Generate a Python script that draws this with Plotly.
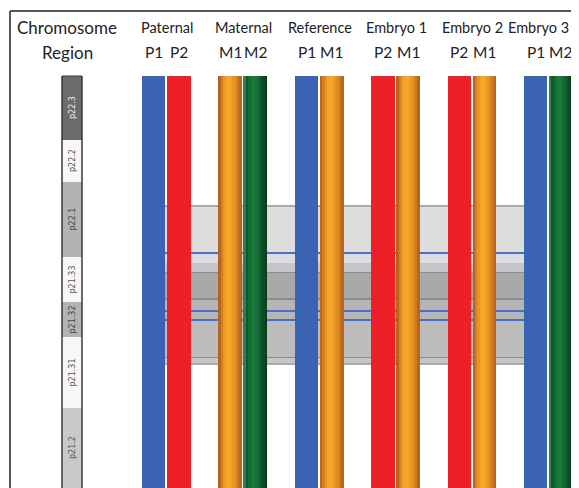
import plotly.graph_objects as go

# ---------------- data ----------------
groups = ["Paternal", "Maternal", "Reference", "Embryo 1", "Embryo 2", "Embryo 3"]
haplo_left = ["P1", "M1", "P1", "P2", "P2", "P1"]
haplo_right = ["P2", "M2", "M1", "M1", "M1", "M2"]

# chromosome 6p ideogram bands (positions along the drawn chromosome)
band_names = ["p22.3", "p22.2", "p22.1", "p21.33", "p21.32", "p21.31", "p21.2"]
band_start = [76, 140, 182, 257, 302, 337, 408]
band_end = [140, 182, 257, 302, 337, 408, 490]
band_stain = ["gpos75", "gneg", "gpos50", "gneg", "gpos50", "gneg", "gpos25"]

# highlighted (typed) region with marker stripes
region_start = [205, 207, 252, 254, 263, 272, 273, 298, 300, 310, 312, 319, 321, 357, 358, 363]
region_end = [207, 252, 254, 263, 272, 273, 298, 300, 310, 312, 319, 321, 357, 358, 363, 365]
region_kind = ["edge", "light", "marker", "pale", "mid", "edge2", "dark", "edge2", "mid2",
               "marker", "mid2", "marker", "mid3", "edge2", "mid", "edge"]

chrom_top = 76
chrom_bottom = 490

# ---------------- styles ----------------
W, H = 579, 488
PAD = 8  # browser body margin offset
stain_color = {"gpos75": "#6b6b6b", "gneg": "#f7f7f7", "gpos50": "#b3b3b3", "gpos25": "#c9c9c9"}
stain_text = {"gpos75": "#f0f0f0", "gneg": "#555555", "gpos50": "#444444", "gpos25": "#555555"}
region_color = {"edge": "#a9a9a9", "light": "#dddddd", "marker": "#4a70c2", "pale": "#dcdde3",
                "mid": "#c6c6c6", "edge2": "#8c8c8c", "dark": "#a9a9a9", "mid2": "#b5b5b7",
                "mid3": "#bdbdbd"}

flat_color = {"P1": "#3a63b3", "P2": "#ee1f26"}
grad_profile = {
    "M1": ["#b4661c", "#d4801f", "#ea9422", "#f4a326", "#f6a829", "#f2a227",
           "#e99724", "#dc8a22", "#cc7a20", "#b8681d"],
    "M2": ["#2f8047", "#0f5a2a", "#136a33", "#187638", "#1a7a3b", "#17733a",
           "#136633", "#0f582b", "#0c4b24", "#093f1e"],
}

first_center = 166.3
spacing = 76.4
offset = 12.6
bar_w = 23.5
chrom_x = 72
chrom_w = 20

font_fam = "Lato, 'Open Sans', sans-serif"

fig = go.Figure()

# ---- haplotype bars ----
xs, ws, cols = [], [], []
for i, (a, b) in enumerate(zip(haplo_left, haplo_right)):
    c = first_center + i * spacing
    for hap, cx in ((a, c - offset), (b, c + offset)):
        if hap in flat_color:
            xs.append(cx); ws.append(bar_w); cols.append(flat_color[hap])
        else:
            prof = grad_profile[hap]
            n = len(prof)
            sw = bar_w / n
            for k, col in enumerate(prof):
                xs.append(cx - bar_w / 2 + sw * (k + 0.5))
                ws.append(sw * 1.08)
                cols.append(col)
fig.add_trace(go.Bar(x=xs, y=[chrom_bottom - chrom_top] * len(xs), base=[chrom_top] * len(xs),
                     width=ws, marker=dict(color=cols, line=dict(width=0)),
                     hoverinfo="skip", showlegend=False))

# ---- ideogram bands ----
fig.add_trace(go.Bar(x=[chrom_x] * len(band_names),
                     y=[e - s for s, e in zip(band_start, band_end)],
                     base=band_start, width=chrom_w,
                     marker=dict(color=[stain_color[s] for s in band_stain], line=dict(width=0)),
                     hoverinfo="skip", showlegend=False))
for nm, s, e, st in zip(band_names, band_start, band_end, band_stain):
    fig.add_annotation(x=chrom_x, y=(s + min(e, 488)) / 2, xref="x", yref="y", text=nm, showarrow=False,
                       textangle=-90, font=dict(family="DejaVu Sans", size=8, color=stain_text[st]))
# ideogram outline
for dx in (-chrom_w / 2, chrom_w / 2):
    fig.add_shape(type="line", x0=chrom_x + dx, x1=chrom_x + dx, y0=chrom_top, y1=chrom_bottom,
                  xref="x", yref="y", line=dict(color="#3a3a3a", width=1.5), layer="above")
fig.add_shape(type="line", x0=chrom_x - chrom_w / 2, x1=chrom_x + chrom_w / 2, y0=chrom_top, y1=chrom_top,
              xref="x", yref="y", line=dict(color="#3a3a3a", width=1), layer="above")

# ---- highlighted region (behind bars) ----
rx0 = first_center - 5
rx1 = first_center + 5 * spacing - 18
for s, e, k in zip(region_start, region_end, region_kind):
    fig.add_shape(type="rect", x0=rx0, x1=rx1, y0=s, y1=e, xref="x", yref="y",
                  fillcolor=region_color[k], line=dict(width=0), layer="below")

# ---- frame lines ----
fig.add_shape(type="line", x0=10, x1=W + PAD, y0=11, y1=11, xref="x", yref="y",
              line=dict(color="#555555", width=2))
fig.add_shape(type="line", x0=10, x1=10, y0=11, y1=H + PAD, xref="x", yref="y",
              line=dict(color="#555555", width=2))

# ---- headers ----
cfont = dict(family=font_fam, size=17, color="#222222")
gfont = dict(family=font_fam, size=14.5, color="#222222")
hfont = dict(family=font_fam, size=15.5, color="#222222")
fig.add_annotation(x=67, y=27, xref="x", yref="y", text="Chromosome", showarrow=False, font=cfont)
fig.add_annotation(x=67, y=52, xref="x", yref="y", text="Region", showarrow=False, font=cfont)
for i, (g, a, b) in enumerate(zip(groups, haplo_left, haplo_right)):
    c = first_center + i * spacing
    if i == len(groups) - 1:
        fig.add_annotation(x=571, y=27, xref="x", yref="y", text=g, showarrow=False,
                           xanchor="right", font=gfont)
    else:
        fig.add_annotation(x=c + 1, y=27, xref="x", yref="y", text=g, showarrow=False, font=gfont)
    fig.add_annotation(x=c - offset, y=52, xref="x", yref="y", text=a, showarrow=False, font=hfont)
    fig.add_annotation(x=c + offset, y=52, xref="x", yref="y", text=b, showarrow=False, font=hfont)

fig.update_layout(
    width=W, height=H, margin=dict(l=0, r=0, t=0, b=0),
    paper_bgcolor="white", plot_bgcolor="white", barmode="overlay", bargap=0,
    xaxis=dict(range=[PAD, W + PAD], visible=False, fixedrange=True),
    yaxis=dict(range=[H + PAD, PAD], visible=False, fixedrange=True),
    showlegend=False,
)
fig.write_html("out.html")
